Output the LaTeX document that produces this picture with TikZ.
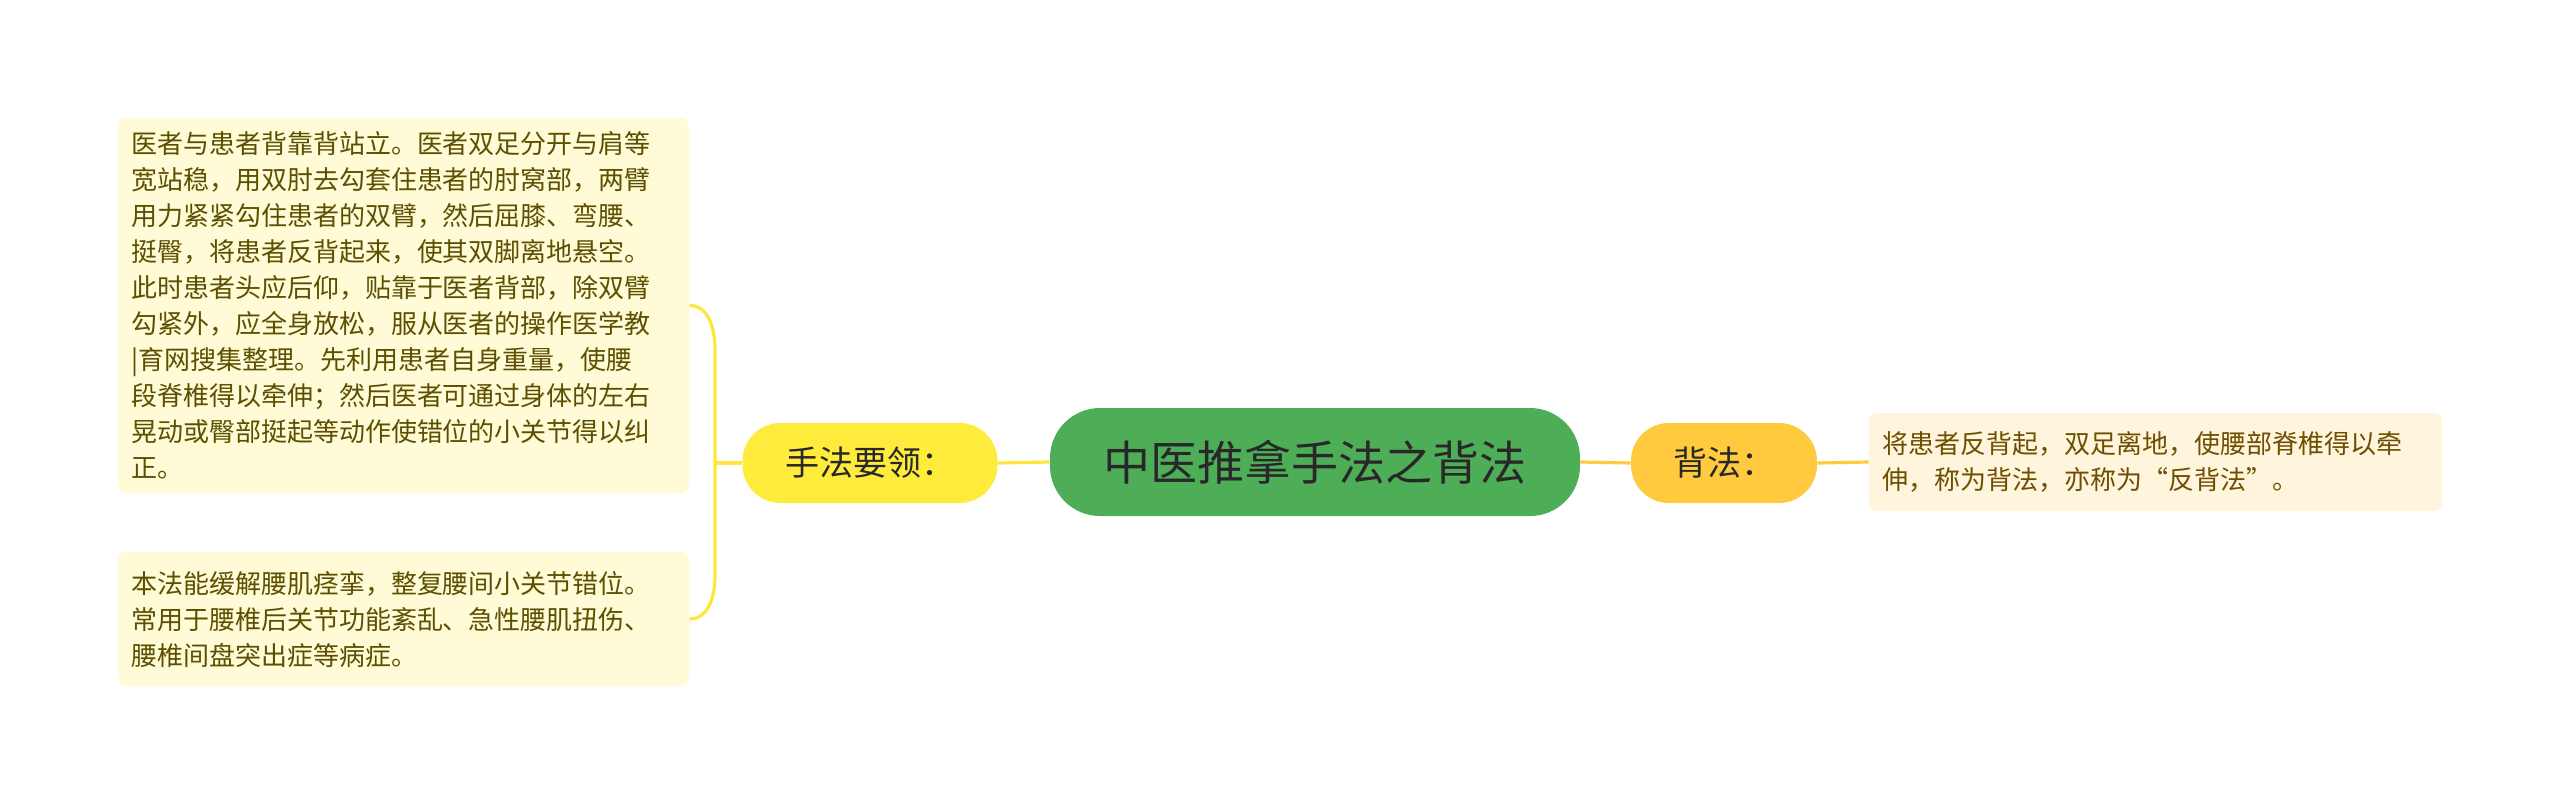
\documentclass[tikz,border=0pt]{standalone}
\usepackage{fontspec}
\setmainfont{Noto Sans CJK SC}
\usepackage{xcolor}
\usetikzlibrary{positioning}
\definecolor{rootgreen}{RGB}{78,174,88}
\definecolor{topicyellow}{RGB}{255,235,59}
\definecolor{topicorange}{RGB}{255,202,61}
\definecolor{leafyellow}{RGB}{255,251,215}
\definecolor{leafcream}{RGB}{255,245,220}
\definecolor{lineyellow}{RGB}{253,231,60}
\definecolor{lineorange}{RGB}{255,202,61}
\definecolor{textdark}{RGB}{40,40,40}
\definecolor{textolive}{RGB}{92,80,0}
\definecolor{textbrown}{RGB}{110,78,0}

\begin{document}
\begin{tikzpicture}[x=0.5pt,y=-0.5pt,
root/.style={fill=rootgreen,text=textdark,rounded corners=25pt,minimum width=265pt,minimum height=54pt,font=\fontsize{23.5pt}{27pt}\selectfont},
topic/.style={text=textdark,rounded corners=19pt,minimum height=40pt,font=\fontsize{17pt}{20pt}\selectfont},
leaf/.style={rounded corners=4pt,align=left,inner xsep=6.5pt,font=\fontsize{13pt}{18pt}\selectfont},
ylink/.style={draw=lineyellow,line width=1.6pt},
olink/.style={draw=lineorange,line width=1.6pt}]
\useasboundingbox (0,0) rectangle (2560,804);
% main topic
\node[root] (root) at (1315,462) {中医推拿手法之背法};
\node[topic,fill=topicyellow,minimum width=127.5pt] (hf) at (870,463) {手法要领：};
\node[topic,fill=topicorange,minimum width=93pt] (bf) at (1724,463) {背法：};
% leaves
\node[leaf,fill=leafyellow,text=textolive,text width=272.5pt,minimum height=187.5pt] (boxA) at (403.5,305.5) {医者与患者背靠背站立。医者双足分开与肩等\\宽站稳，用双肘去勾套住患者的肘窝部，两臂\\用力紧紧勾住患者的双臂，然后屈膝、弯腰、\\挺臀，将患者反背起来，使其双脚离地悬空。\\此时患者头应后仰，贴靠于医者背部，除双臂\\勾紧外，应全身放松，服从医者的操作医学教\\|育网搜集整理。先利用患者自身重量，使腰\\段脊椎得以牵伸；然后医者可通过身体的左右\\晃动或臀部挺起等动作使错位的小关节得以纠\\正。};
\node[leaf,fill=leafyellow,text=textolive,text width=272.5pt,minimum height=67pt] (boxB) at (403.5,619) {本法能缓解腰肌痉挛，整复腰间小关节错位。\\常用于腰椎后关节功能紊乱、急性腰肌扭伤、\\腰椎间盘突出症等病症。};
\node[leaf,fill=leafcream,text=textbrown,text width=273.5pt,minimum height=49pt] (rb) at (2155.5,462) {将患者反背起，双足离地，使腰部脊椎得以牵\\伸，称为背法，亦称为“反背法”。};
% links
\coordinate (brk) at (715,463);
\coordinate (brkT) at (715,350);
\coordinate (brkB) at (715,576);
\draw[ylink] (root.west)--(hf.east);
\draw[ylink] (hf.west)--(brk);
\draw[ylink] (boxA.east) to[out=0,in=90] (brkT)--(brkB) to[out=-90,in=0] (boxB.east);
\draw[olink] (root.east)--(bf.west);
\draw[olink] (bf.east)--(rb.west);
\end{tikzpicture}
\end{document}
